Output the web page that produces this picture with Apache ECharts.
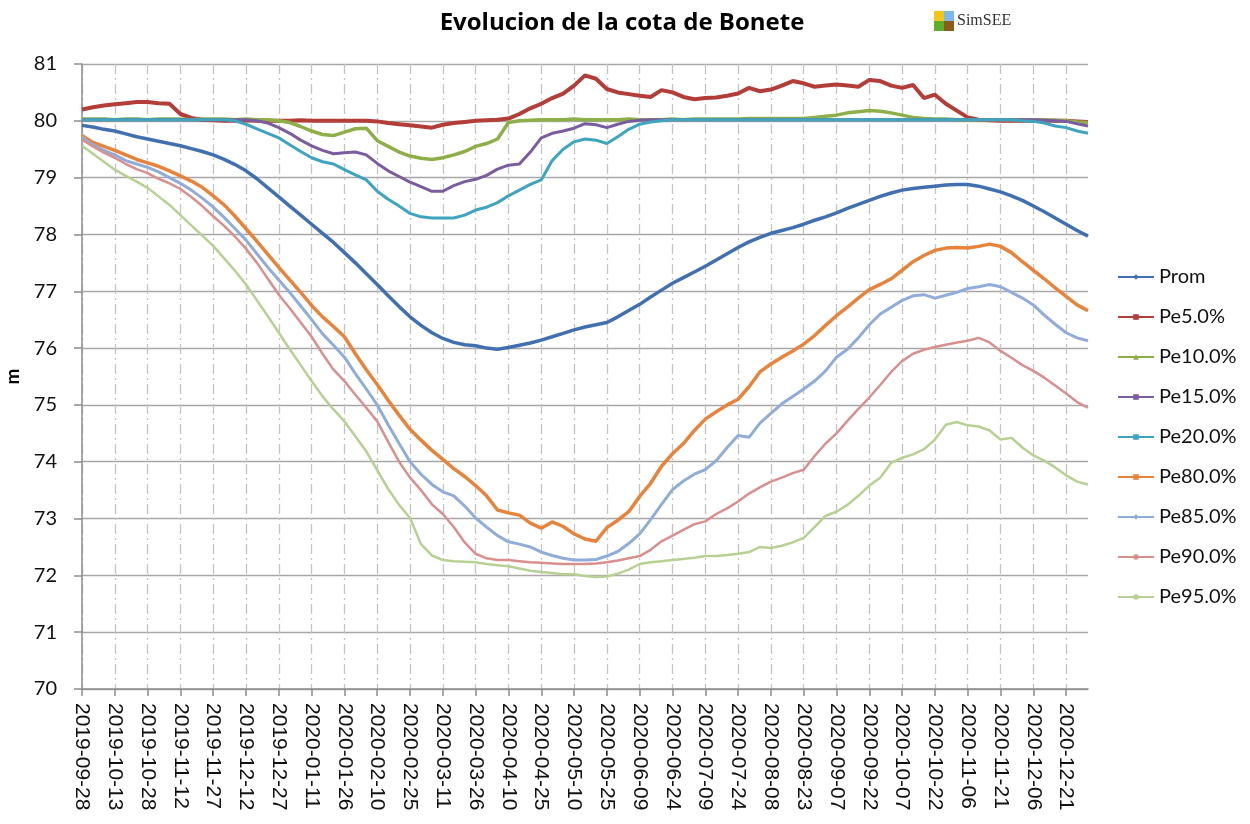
<!DOCTYPE html>
<html>
<head>
<meta charset="utf-8">
<script src="https://cdn.jsdelivr.net/npm/echarts@6/dist/echarts.min.js"></script>
<style>
html,body{margin:0;padding:0;background:#fff;}
#chart{width:1250px;height:824px;}
</style>
</head>
<body>
<div id="chart"></div>
<script>
// ---- categories: one every 5 days from 2019-09-28 (93 points, to 2020-12-31) ----
const startDate = '2019-09-28';
const stepDays = 5;
const nPoints = 93;
function buildDates(start, step, n) {
  const out = [];
  const d0 = new Date(start + 'T00:00:00Z');
  for (let i = 0; i < n; i++) {
    const d = new Date(d0.getTime() + i * step * 86400000);
    out.push(d.toISOString().slice(0, 10));
  }
  return out;
}
const categories = buildDates(startDate, stepDays, nPoints);

const seriesNames = ['Prom','Pe5.0%','Pe10.0%','Pe15.0%','Pe20.0%','Pe80.0%','Pe85.0%','Pe90.0%','Pe95.0%'];

const prom = [79.92,79.89,79.85,79.82,79.77,79.72,79.68,79.64,79.60,79.56,
 79.51,79.46,79.40,79.32,79.23,79.12,78.98,78.82,78.66,78.50,
 78.34,78.18,78.02,77.86,77.68,77.50,77.31,77.12,76.92,76.73,
 76.55,76.40,76.27,76.17,76.10,76.06,76.04,76.00,75.98,76.01,
 76.05,76.09,76.14,76.20,76.26,76.32,76.37,76.41,76.45,76.55,
 76.66,76.77,76.90,77.02,77.14,77.24,77.34,77.44,77.55,77.66,
 77.77,77.87,77.95,78.02,78.07,78.12,78.18,78.25,78.31,78.38,
 78.46,78.53,78.60,78.67,78.73,78.78,78.81,78.83,78.85,78.87,
 78.88,78.88,78.85,78.80,78.75,78.68,78.60,78.50,78.40,78.29,
 78.18,78.07,77.97];

const pe5 = [80.20,80.24,80.27,80.29,80.31,80.33,80.33,80.31,80.30,80.12,80.05,80.02,80.01,
 80.00,80.00,80.01,80.00,80.00,80.00,80.00,80.01,80.00,80.00,80.00,80.00,80.00,80.00,
 79.99,79.96,79.94,79.92,79.90,79.88,79.93,79.96,79.98,80.00,80.01,80.02,80.04,80.12,80.22,80.30,80.40,80.48,80.62,80.80,80.74,
 80.56,80.50,80.47,80.44,80.42,80.54,80.50,80.42,80.38,80.40,80.41,80.44,80.48,80.58,80.52,80.55,80.62,80.70,80.66,80.60,80.62,80.64,80.62,80.60,80.72,80.70,80.62,80.58,80.63,80.40,80.46,80.30,80.18,80.06,80.02,
 80.01,80.00,80.00,80.00,80.00,80.00,80.00,80.00,79.99,79.98];

const pe10 = [80.03,80.03,80.03,80.02,80.03,80.03,80.02,80.03,80.03,80.03,80.02,80.03,80.03,80.03,80.02,80.03,80.02,80.02,
 80.00,79.97,79.90,79.82,79.76,79.74,79.80,79.86,79.87,79.65,79.55,79.45,79.38,79.34,79.32,79.35,79.40,79.46,79.55,79.60,79.68,79.97,80.00,80.01,
 80.02,80.02,80.02,80.03,80.02,80.02,80.02,80.02,80.03,80.02,80.02,80.02,80.03,80.02,80.03,80.03,80.03,80.03,80.03,80.04,80.04,80.04,80.04,80.04,80.04,
 80.06,80.08,80.10,80.14,80.16,80.18,80.17,80.14,80.10,80.06,80.04,80.03,80.03,80.02,80.02,80.02,80.02,80.02,80.02,80.02,80.02,80.02,80.01,80.00,79.98,79.97];

const pe15 = [80.02,80.02,80.02,80.02,80.02,80.02,80.02,80.02,80.02,80.02,80.02,80.02,80.02,80.02,80.02,80.02,
 80.00,79.96,79.88,79.78,79.66,79.56,79.48,79.42,79.44,79.45,79.40,79.25,79.12,79.02,78.92,78.84,78.76,78.76,78.86,78.93,78.97,79.04,79.15,79.22,79.24,79.45,79.70,79.78,79.82,79.87,79.95,79.93,79.88,79.94,79.99,
 80.01,80.02,80.02,80.02,80.02,80.02,80.02,80.02,80.02,80.02,80.02,80.02,80.02,80.02,80.02,80.02,80.02,80.02,80.02,80.02,80.02,80.02,80.02,80.02,80.02,80.02,80.02,80.02,80.02,80.02,80.02,80.02,80.02,80.02,80.02,80.02,80.02,
 80.01,80.00,79.99,79.95,79.91];

const pe20 = [80.02,80.02,80.02,80.02,80.02,80.02,80.02,80.02,80.02,80.02,80.02,80.02,80.02,80.02,
 80.00,79.94,79.86,79.78,79.70,79.58,79.46,79.35,79.28,79.24,79.14,79.05,78.96,78.76,78.62,78.50,78.37,78.31,78.29,78.29,78.29,78.34,78.43,78.48,78.56,78.68,78.78,78.88,78.96,79.30,79.50,79.63,79.68,79.66,79.60,79.72,79.85,79.94,79.98,80.00,
 80.02,80.02,80.02,80.02,80.02,80.02,80.02,80.02,80.02,80.02,80.02,80.02,80.02,80.02,80.02,80.02,80.02,80.02,80.02,80.02,80.02,80.02,80.02,80.02,80.02,80.02,80.02,80.02,80.02,80.02,80.02,80.02,
 80.00,79.99,79.96,79.91,79.88,79.82,79.78];

const pe80 = [79.74,79.62,79.55,79.48,79.40,79.32,79.26,79.20,79.12,79.03,78.94,78.83,78.68,78.52,78.32,78.10,77.88,77.65,77.42,77.20,76.98,76.75,76.55,76.38,76.20,
 75.90,75.62,75.36,75.08,74.82,74.57,74.38,74.20,74.04,73.88,73.74,73.58,73.40,73.15,73.10,73.06,72.92,72.83,72.94,72.86,72.73,72.64,72.60,
 72.84,72.97,73.12,73.39,73.62,73.92,74.14,74.32,74.55,74.75,74.88,75.00,75.10,75.32,75.58,75.72,75.84,75.95,76.07,76.22,76.40,76.57,76.72,76.88,77.03,77.12,77.22,77.37,77.52,77.63,77.72,77.76,77.77,77.76,77.79,77.83,77.79,77.68,77.52,77.37,77.22,77.06,76.91,76.76,76.66];

const pe85 = [79.71,79.58,79.48,79.40,79.30,79.24,79.18,79.10,79.00,78.90,78.78,78.64,78.48,78.30,78.10,77.90,77.66,77.42,77.20,76.98,76.74,76.50,76.25,76.05,75.84,
 75.55,75.28,75.00,74.65,74.32,74.00,73.78,73.60,73.47,73.40,73.22,73.01,72.85,72.70,72.59,72.55,72.50,72.41,72.35,72.30,72.27,72.27,72.28,
 72.34,72.42,72.56,72.73,72.98,73.25,73.51,73.66,73.78,73.86,74.02,74.25,74.46,74.43,74.68,74.85,75.02,75.15,75.28,75.42,75.60,75.84,75.98,76.18,76.41,76.60,76.72,76.84,76.92,76.94,76.88,76.93,76.98,77.05,77.08,77.12,77.08,76.98,76.88,76.76,76.58,76.42,76.27,76.18,76.13];

const pe90 = [79.67,79.55,79.44,79.35,79.24,79.15,79.08,78.98,78.90,78.80,78.66,78.50,78.32,78.15,77.96,77.75,77.50,77.22,76.94,76.70,76.45,76.20,75.90,75.62,75.42,
 75.18,74.95,74.71,74.35,74.00,73.72,73.50,73.25,73.08,72.85,72.58,72.38,72.30,72.27,72.27,72.25,72.23,72.22,72.21,72.20,72.20,72.20,72.21,
 72.23,72.26,72.30,72.34,72.45,72.60,72.70,72.80,72.90,72.95,73.08,73.18,73.30,73.44,73.55,73.65,73.72,73.80,73.86,74.10,74.32,74.50,74.72,74.93,75.13,75.35,75.58,75.77,75.90,75.97,76.02,76.06,76.10,76.13,76.18,76.10,75.95,75.83,75.70,75.60,75.48,75.34,75.20,75.05,74.95];

const pe95 = [79.56,79.42,79.28,79.14,79.03,78.93,78.82,78.67,78.52,78.34,78.16,77.98,77.80,77.58,77.36,77.12,76.84,76.56,76.27,75.98,75.70,75.42,75.15,74.92,74.71,
 74.45,74.18,73.85,73.52,73.24,73.01,72.55,72.35,72.27,72.25,72.24,72.23,72.20,72.18,72.16,72.12,72.08,72.06,72.04,72.02,72.02,71.99,71.97,
 71.98,72.03,72.10,72.20,72.23,72.25,72.27,72.29,72.31,72.34,72.34,72.36,72.38,72.41,72.50,72.48,72.52,72.58,72.66,72.85,73.05,73.12,73.24,73.40,73.58,73.72,73.98,74.07,74.13,74.22,74.39,74.65,74.70,74.64,74.62,74.55,74.39,74.42,74.25,74.11,74.02,73.90,73.76,73.65,73.60];

const seriesData = [prom, pe5, pe10, pe15, pe20, pe80, pe85, pe90, pe95];
const colors = ['#4170B0','#B23D39','#8DAF48','#7B5C9F','#3EA4BF','#E8833B','#90ACD9','#D98F8E','#B6D192'];
const widths = [3.5, 4, 3.5, 3, 3, 3.5, 3, 2.5, 2.5];
const symbols = ['diamond','rect','triangle','rect','rect','rect','diamond','none','none'];

const chart = echarts.init(document.getElementById('chart'), null, {renderer: 'canvas'});

const series = seriesNames.map((name, i) => ({
  name: name,
  type: 'line',
  data: seriesData[i],
  showSymbol: false,
  symbol: symbols[i],
  symbolSize: 5,
  lineStyle: {color: colors[i], width: widths[i]},
  itemStyle: {color: colors[i]},
  emphasis: {disabled: true},
  z: 2 + i
}));

chart.setOption({
  animation: false,
  backgroundColor: '#ffffff',
  title: {
    text: 'Evolucion de la cota de Bonete',
    left: 617,
    top: 6,
    textAlign: 'center',
    textStyle: {fontFamily: 'Open Sans', fontWeight: 'bold', fontSize: 24, color: '#000'}
  },
  graphic: [
    {type: 'rect', left: 934, top: 11, shape: {width: 10, height: 10}, style: {fill: '#F5C518'}},
    {type: 'rect', left: 944, top: 11, shape: {width: 10, height: 10}, style: {fill: '#7DB8EA'}},
    {type: 'rect', left: 934, top: 21, shape: {width: 10, height: 10}, style: {fill: '#5DAE2A'}},
    {type: 'rect', left: 944, top: 21, shape: {width: 10, height: 10}, style: {fill: '#8E5A17'}},
    {type: 'text', left: 957, top: 13, style: {text: 'SimSEE', font: '16px "Liberation Serif"', fill: '#333'}}
  ],
  grid: {left: 82, top: 64, right: 162, bottom: 135, containLabel: false, outerBoundsMode: 'none'},
  legend: {
    orient: 'vertical',
    left: 1112,
    top: 262,
    itemWidth: 36,
    itemHeight: 7,
    itemGap: 20,
    data: seriesNames,
    textStyle: {fontFamily: 'Lato', fontSize: 20, color: '#111', lineHeight: 20}
  },
  xAxis: {
    type: 'category',
    data: categories,
    boundaryGap: false,
    axisLine: {lineStyle: {color: '#8c8c8c', width: 1.5}},
    axisTick: {show: true, interval: 2, length: 7, lineStyle: {color: '#8c8c8c', width: 1.5}},
    axisLabel: {
      interval: 2,
      rotate: -90,
      margin: 14,
      fontFamily: 'Liberation Sans',
      fontSize: 21,
      color: '#111'
    },
    splitLine: {show: true, interval: 2, lineStyle: {color: '#c4c4c4', width: 1.3, type: [10, 4, 2, 4]}}
  },
  yAxis: {
    type: 'value',
    min: 70,
    max: 81,
    interval: 1,
    name: 'm',
    nameLocation: 'middle',
    nameGap: 60,
    nameRotate: 90,
    nameTextStyle: {fontFamily: 'Lato', fontWeight: 'bold', fontSize: 19, color: '#000'},
    axisLine: {show: true, lineStyle: {color: '#8c8c8c', width: 1.5}},
    axisTick: {show: true, length: 8, lineStyle: {color: '#8c8c8c', width: 1.5}},
    axisLabel: {margin: 25, fontFamily: 'Lato', fontSize: 20, color: '#111'},
    splitLine: {show: true, lineStyle: {color: '#a8a8a8', width: 1.4}}
  },
  series: series
});
</script>
</body>
</html>
